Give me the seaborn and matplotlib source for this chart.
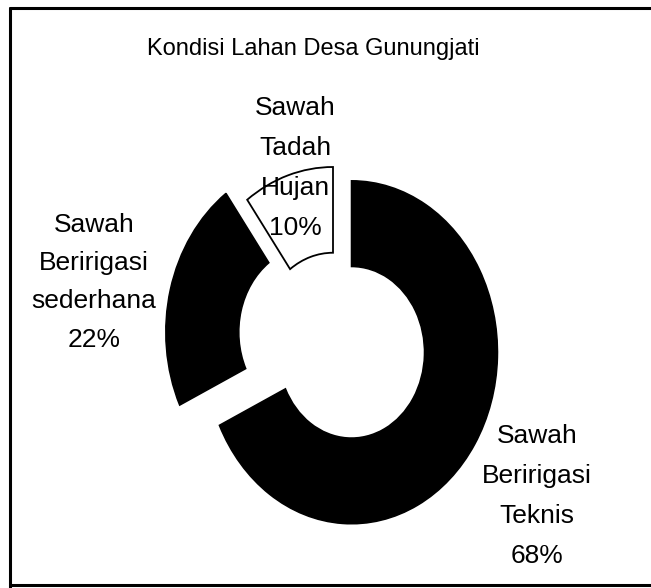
import matplotlib
matplotlib.use("Agg")
import matplotlib.pyplot as plt
from matplotlib import font_manager
from matplotlib.lines import Line2D
import seaborn as sns

# Land use shares (percent)
categories = ["Sawah Beririgasi Teknis", "Sawah Beririgasi sederhana", "Sawah Tadah Hujan"]
shares = [68, 22, 10]
label_words = [
    ["Sawah", "Beririgasi", "Teknis"],
    ["Sawah", "Beririgasi", "sederhana"],
    ["Sawah", "Tadah", "Hujan"],
]
title = "Kondisi Lahan Desa Gunungjati"

wedge_colors = ["black", "black", "white"]
explode = [0.15, 0.15, 0.0]

sns.set_theme(style="white")

installed = {f.name for f in font_manager.fontManager.ttflist}
if "Liberation Sans Narrow" in installed:
    family = "Liberation Sans Narrow"
    title_size, label_size = 20, 22
else:
    family = "Liberation Sans"
    title_size, label_size = 17, 19
plt.rcParams["font.family"] = [family, "DejaVu Sans"]

W, H = 651, 588
fig = plt.figure(figsize=(W / 100, H / 100), dpi=100, facecolor="white")
ax = fig.add_axes([0, 0, 1, 1])

wedges, _ = ax.pie(
    shares,
    colors=wedge_colors,
    explode=explode,
    startangle=90,
    counterclock=False,
    radius=1.0,
    wedgeprops=dict(width=0.5, edgecolor="black", linewidth=1.1),
)
wedges[2].set_linewidth(1.3)

# donut is drawn slightly taller than wide
cx_px, cy_px, rx_px, ry_px = 333, 338.5, 146, 171.5
ax.set_aspect("auto")
ax.set_xlim(-cx_px / rx_px, (W - cx_px) / rx_px)
ax.set_ylim(-(H - cy_px) / ry_px, cy_px / ry_px)
ax.axis("off")


def px(x, y):
    return x / W, 1 - y / H


fig.text(*px(313, 55), title, ha="center", va="baseline",
         fontsize=title_size, color="black")

# label blocks: centre x and line baselines
label_pos = [
    (537, [443, 483, 523, 563]),
    (94, [232, 270, 308, 347]),
    (295, [115, 155, 195, 235]),
]
for words, value, (lx, baselines) in zip(label_words, shares, label_pos):
    lines = words + [f"{value}%"]
    for line, by in zip(lines, baselines):
        fig.text(*px(lx, by), line, ha="center", va="baseline",
                 fontsize=label_size, color="black")

# chart border
for xs, ys in [((10, 10), (8, 588)), ((10, 651), (8, 8)), ((10, 651), (585, 585))]:
    fig.add_artist(Line2D([x / W for x in xs], [1 - y / H for y in ys],
                          transform=fig.transFigure, color="black", linewidth=2.2))

fig.savefig("out.png", dpi=100, facecolor="white")
